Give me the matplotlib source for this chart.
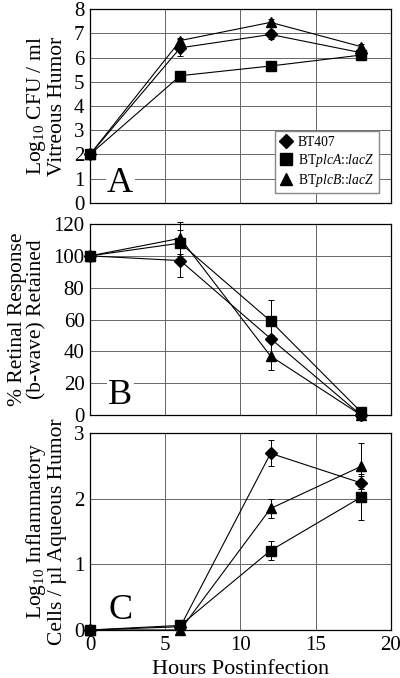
import numpy as np
import matplotlib.pyplot as plt
from matplotlib.lines import Line2D

plt.rcParams['font.family'] = ['Liberation Serif', 'DejaVu Serif']
plt.rcParams['mathtext.fontset'] = 'custom'
plt.rcParams['mathtext.rm'] = 'Liberation Serif'
plt.rcParams['mathtext.it'] = 'Liberation Serif:italic'

hours = [0, 6, 12, 18]
names = ['BT407', r'BT$\it{plcA}$::$\it{lacZ}$', r'BT$\it{plcB}$::$\it{lacZ}$']
markers = ['D', 's', '^']
msizes = [6, 7, 7]

# A: log10 CFU / ml
cfu = [[2.0, 6.4, 6.95, 6.2],
       [2.0, 5.25, 5.65, 6.1],
       [2.0, 6.7, 7.45, 6.45]]
cfu_err = [[0, 0.35, 0.2, 0.1],
           [0, 0.05, 0.05, 0.1],
           [0, 0.1, 0.15, 0.1]]

# B: % retinal response retained
bwave = [[100, 97, 48, 0],
         [100, 108, 59, 2],
         [100, 111, 37, 0]]
bwave_err = [[0, 10, 2, 0],
             [0, 8, 13, 1],
             [0, 10, 9, 0]]

# C: log10 inflammatory cells
cells = [[0, 0.05, 2.69, 2.24],
         [0, 0.07, 1.21, 2.02],
         [0, 0.0, 1.85, 2.49]]
cells_err = [[0, 0.05, 0.2, 0.1],
             [0, 0.05, 0.15, 0.35],
             [0, 0.05, 0.14, 0.35]]

fig = plt.figure(figsize=(4.0, 6.78), dpi=100)
L, W = 0.225, 0.7525
axA = fig.add_axes([L, 0.7006, W, 0.2861])
axB = fig.add_axes([L, 0.3879, W, 0.2817])
axC = fig.add_axes([L, 0.0708, W, 0.2906])

panels = [
    (axA, cfu, cfu_err, (0, 8), range(0, 9), 'Log$_{10}$ CFU / ml\nVitreous Humor', 'A'),
    (axB, bwave, bwave_err, (0, 120), range(0, 121, 20), '% Retinal Response\n(b-wave) Retained', 'B'),
    (axC, cells, cells_err, (0, 3), range(0, 4), 'Log$_{10}$ Inflammatory\nCells / µl Aqueous Humor', 'C'),
]

for ax, data, err, ylim, yticks, ylabel, letter in panels:
    for i in range(3):
        ax.errorbar(hours, data[i], yerr=err[i], color='black', lw=0.8,
                    marker=markers[i], ms=msizes[i], elinewidth=0.7,
                    capsize=2.5, capthick=0.7, clip_on=False, zorder=3)
    ax.set_xlim(0, 20)
    ax.set_ylim(*ylim)
    ax.set_yticks(list(yticks))
    ax.set_xticks([0, 5, 10, 15, 20])
    ax.grid(True, color='#666666', lw=0.7)
    ax.set_axisbelow(True)
    ax.tick_params(length=0, labelsize=15, pad=4)
    ax.set_ylabel(ylabel, fontsize=15.5, linespacing=1.0, labelpad=5)
    for s in ax.spines.values():
        s.set_linewidth(0.9)
    ax.text(0.1, 0.1, letter, transform=ax.transAxes, fontsize=26,
            ha='center', va='center', zorder=2,
            bbox=dict(facecolor='white', edgecolor='none', pad=1))
    if ax is not axC:
        ax.tick_params(labelbottom=False)

handles = [Line2D([], [], ls='none', marker=markers[i], ms=msizes[i] + 1,
                  color='black') for i in range(3)]
axA.legend(handles, names, loc='lower right', bbox_to_anchor=(0.96, 0.05),
           fontsize=9.8, frameon=True, fancybox=False, edgecolor='#888888',
           framealpha=1, handlelength=0.8, handletextpad=0.5, borderpad=0.35,
           labelspacing=0.2, borderaxespad=0)
axC.set_xlabel('Hours Postinfection', fontsize=16, labelpad=4)

fig.savefig('out.png', dpi=100)
